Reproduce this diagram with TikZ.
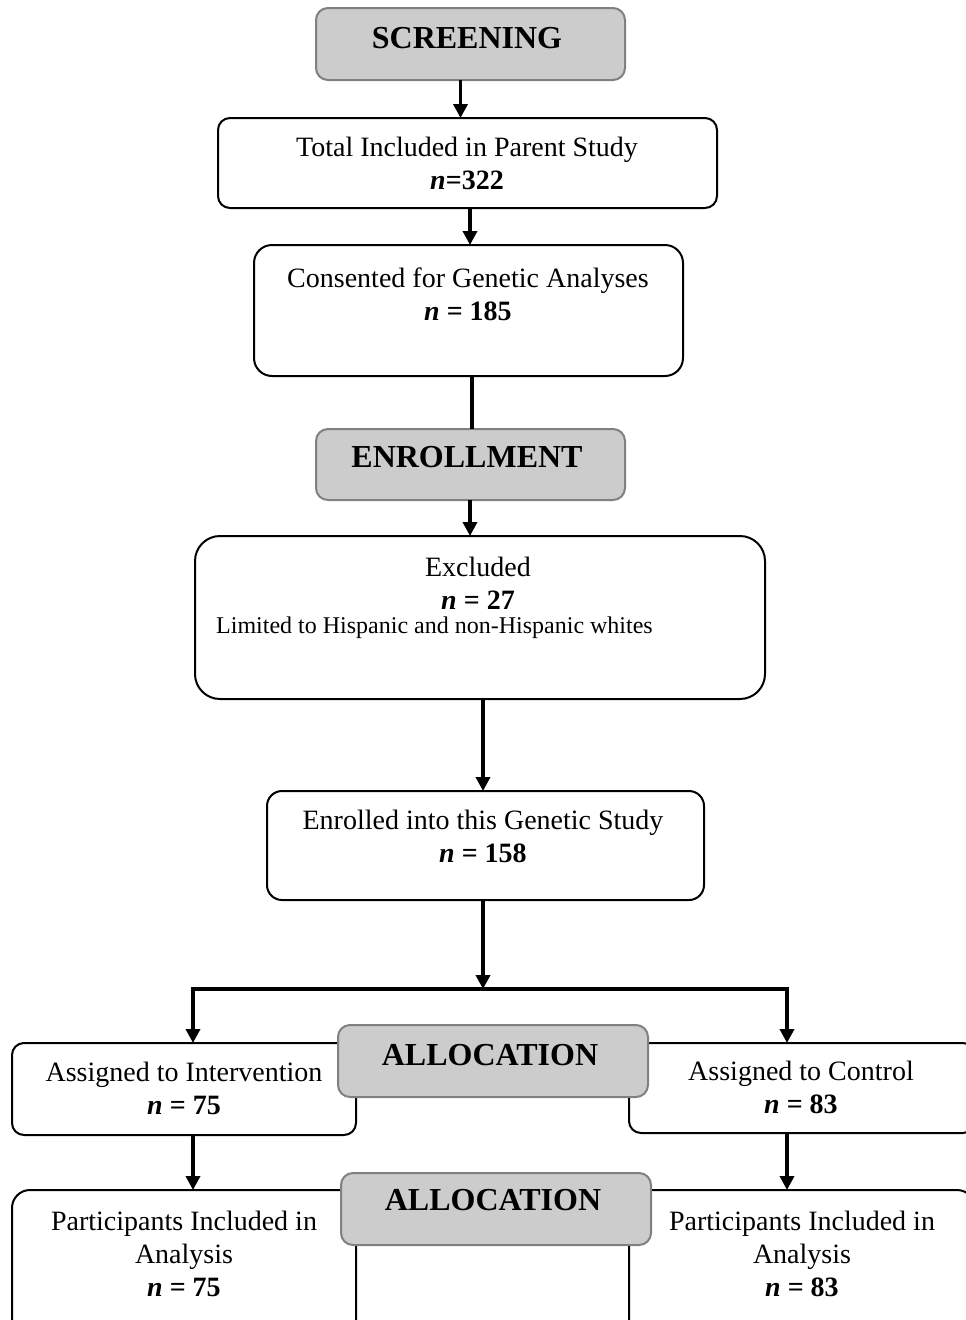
\documentclass[tikz,border=0pt]{standalone}
\usepackage{fontspec}
\setmainfont{Liberation Serif}
\usetikzlibrary{arrows.meta,calc}
\tikzset{
  wbox/.style={draw=black, line width=2pt, fill=white, rounded corners=12pt, inner sep=0pt, outer sep=0pt},
  gbox/.style={draw=black!50, line width=2pt, fill=black!20, rounded corners=12pt, inner sep=0pt, outer sep=0pt},
  txt/.style={align=center, inner sep=0pt, font=\fontsize{28}{33}\selectfont},
  gtxt/.style={align=center, inner sep=0pt, font=\fontsize{32}{36}\selectfont\bfseries},
  arr/.style={line width=3.5pt, -{Triangle[length=14pt,width=14pt]}},
  ln/.style={line width=3.5pt}
}
\newcommand{\nn}{\textbf{\textit{n}}}
\begin{document}
\begin{tikzpicture}[x=1pt,y=-1pt]
\useasboundingbox (0,0) rectangle (966,1320);
\clip (0,0) rectangle (966,1320);
% boxes
\node[gbox, minimum width=309pt, minimum height=72pt] (sc) at (470.5,44) {};
\node[gtxt] (sct) at (467,38) {SCREENING};
\node[wbox, minimum width=499pt, minimum height=90pt] (b1) at (467.5,163) {};
\node[txt] (b1t) at (467,163) {Total Included in Parent Study\\\nn\textbf{=322}};
\node[wbox, minimum width=429pt, minimum height=131pt, rounded corners=18pt] (b2) at (468.5,310.5) {};
\node[txt] (b2t) at (468,294) {Consented for Genetic Analyses\\\nn\textbf{ = 185}};
\node[gbox, minimum width=309pt, minimum height=71pt] (en) at (470.5,464.5) {};
\node[gtxt] (ent) at (467,457) {ENROLLMENT};
\node[wbox, minimum width=570pt, minimum height=163pt, rounded corners=25pt] (ex) at (480,617.5) {};
\node[txt] (ext1) at (478,583) {Excluded\\\nn\textbf{ = 27}};
\node[inner sep=0pt, anchor=west, font=\fontsize{24}{28}\selectfont] (ext2) at (216,628) {Limited to Hispanic and non-Hispanic whites};
\node[wbox, minimum width=437pt, minimum height=109pt, rounded corners=15pt] (er) at (485.5,845.5) {};
\node[txt] (ert) at (483,836) {Enrolled into this Genetic Study\\\nn\textbf{ = 158}};
\node[wbox, minimum width=344pt, minimum height=92pt] (al) at (184,1089) {};
\node[txt] (alt) at (184,1088) {Assigned to Intervention\\\nn\textbf{ = 75}};
\node[wbox, minimum width=346pt, minimum height=90pt] (ar) at (802,1088) {};
\node[txt] (art) at (801,1087) {Assigned to Control\\\nn\textbf{ = 83}};
\node[gbox, minimum width=310pt, minimum height=72pt] (a1) at (493,1061) {};
\node[gtxt] (a1t) at (490,1055) {ALLOCATION};
\node[wbox, minimum width=344pt, minimum height=150pt, rounded corners=18pt] (pl) at (184,1265) {};
\node[txt] (plt) at (184,1254) {Participants Included in\\Analysis\\\nn\textbf{ = 75}};
\node[wbox, minimum width=346pt, minimum height=150pt, rounded corners=18pt] (pr) at (802,1265) {};
\node[txt] (prt) at (802,1254) {Participants Included in\\Analysis\\\nn\textbf{ = 83}};
\node[gbox, minimum width=310pt, minimum height=72pt] (a2) at (496,1209) {};
\node[gtxt] (a2t) at (493,1200) {ALLOCATION};
% connectors
\draw[arr] ([xshift=-10pt]sc.south) -- ([xshift=-10pt]sc.south |- b1.north);
\draw[arr] ([xshift=2.5pt]b1.south) -- ([xshift=2.5pt]b1.south |- b2.north);
\draw[ln] ([xshift=3.5pt]b2.south) -- ([xshift=3.5pt]b2.south |- en.north);
\draw[arr] ([xshift=-0.5pt]en.south) -- ([xshift=-0.5pt]en.south |- ex.north);
\draw[arr] ([xshift=3pt]ex.south) -- ([xshift=3pt]ex.south |- er.north);
\coordinate (split) at ($(er.south)+(-2.5,89)$);
\draw[arr] ([xshift=-2.5pt]er.south) -- (split);
\coordinate (lc) at (193,989);
\coordinate (rc) at (787,989);
\draw[ln, line cap=rect] (lc) -- (rc);
\draw[arr] (lc) -- (lc |- al.north);
\draw[arr] (rc) -- (rc |- ar.north);
\draw[arr] (al.south -| lc) -- (lc |- pl.north);
\draw[arr] (ar.south -| rc) -- (rc |- pr.north);
\end{tikzpicture}
\end{document}
